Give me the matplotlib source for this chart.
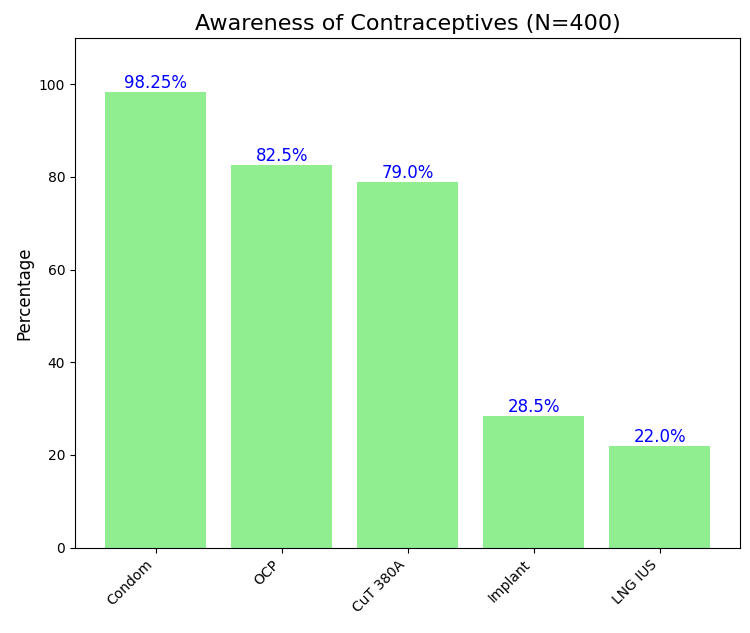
import numpy as np
import matplotlib.pyplot as plt

methods = ["Condom", "OCP", "CuT 380A", "Implant", "LNG IUS"]
percentages = [98.25, 82.5, 79.0, 28.5, 22.0]
value_labels = ["98.25%", "82.5%", "79.0%", "28.5%", "22.0%"]


def main():
    fig, ax = plt.subplots(figsize=(7.5, 6.33), dpi=100)
    bars = ax.bar(methods, percentages, color="lightgreen")

    for bar, label in zip(bars, value_labels):
        ax.text(bar.get_x() + bar.get_width() / 2, bar.get_height(), label,
                ha="center", va="bottom", color="blue", fontsize=12)

    ax.set_ylim(0, 110)
    ax.set_title("Awareness of Contraceptives (N=400)", fontsize=16)
    ax.set_ylabel("Percentage", fontsize=12)
    plt.setp(ax.get_xticklabels(), rotation=45, ha="right")

    fig.subplots_adjust(left=0.1, right=0.987, top=0.94, bottom=0.135)
    fig.savefig("out.png")


if __name__ == "__main__":
    main()
